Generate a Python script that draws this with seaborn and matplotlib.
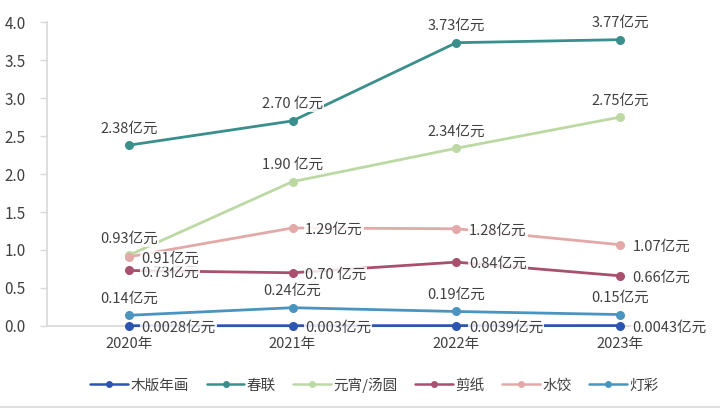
import numpy as np
import pandas as pd
import matplotlib.pyplot as plt
import seaborn as sns

years = ['2020年', '2021年', '2022年', '2023年']
series_names = ['木版年画', '春联', '元宵/汤圆', '剪纸', '水饺', '灯彩']
muban = [0.0028, 0.003, 0.0039, 0.0043]
chunlian = [2.38, 2.70, 3.73, 3.77]
yuanxiao = [0.93, 1.90, 2.34, 2.75]
jianzhi = [0.73, 0.70, 0.84, 0.66]
shuijiao = [0.91, 1.29, 1.28, 1.07]
dengcai = [0.14, 0.24, 0.19, 0.15]

labels_muban = ['0.0028亿元', '0.003亿元', '0.0039亿元', '0.0043亿元']
labels_chunlian = ['2.38亿元', '2.70 亿元', '3.73亿元', '3.77亿元']
labels_yuanxiao = ['0.93亿元', '1.90 亿元', '2.34亿元', '2.75亿元']
labels_jianzhi = ['0.73亿元', '0.70 亿元', '0.84亿元', '0.66亿元']
labels_shuijiao = ['0.91亿元', '1.29亿元', '1.28亿元', '1.07亿元']
labels_dengcai = ['0.14亿元', '0.24亿元', '0.19亿元', '0.15亿元']

colors = ['#2B55B0', '#3A8F8C', '#BCD9A4', '#A8506E', '#E3A9A8', '#4A94C0']

all_values = [muban, chunlian, yuanxiao, jianzhi, shuijiao, dengcai]
all_labels = [labels_muban, labels_chunlian, labels_yuanxiao,
              labels_jianzhi, labels_shuijiao, labels_dengcai]
# where each series puts its labels
placement = ['right', 'above', 'above', 'right', 'right', 'above']

rows = []
for name, vals in zip(series_names, all_values):
    for y, v in zip(years, vals):
        rows.append({'year': y, 'value': v, 'series': name})
df = pd.DataFrame(rows)

sns.set_theme(style='white')
plt.rcParams['font.family'] = ['Noto Sans CJK SC', 'DejaVu Sans']

fig, ax = plt.subplots(figsize=(7.2, 4.11), dpi=100)
fig.subplots_adjust(left=0.065, right=0.975, top=0.946, bottom=0.207)

sns.lineplot(data=df, x='year', y='value', hue='series', hue_order=series_names,
             palette=colors, marker='o', markersize=6.5, markeredgewidth=0,
             linewidth=2, sort=False, ax=ax)
# keep the near-zero series fully visible on top of the baseline
for ln in ax.lines:
    ln.set_clip_on(False)
    ln.set_zorder(3)

# data labels
box = dict(boxstyle='square,pad=0.08', fc='white', ec='none', alpha=0.85)
for vals, labs, where in zip(all_values, all_labels, placement):
    for i, (v, t) in enumerate(zip(vals, labs)):
        if where == 'above':
            ann = ax.annotate(t, (i, v), xytext=(0, 7), textcoords='offset points',
                              ha='center', va='bottom', fontsize=10.5, color='#404040',
                              bbox=box)
        else:
            ann = ax.annotate(t, (i, v), xytext=(9, -1.5), textcoords='offset points',
                              ha='left', va='center', fontsize=10.5, color='#404040',
                              bbox=box)
        ann.set_zorder(6)

ax.set_xlim(-0.5, 3.5)
ax.set_ylim(0, 4.0)
ax.set_yticks(np.arange(0, 4.01, 0.5))
ax.set_yticklabels([f'{t:.1f}' for t in np.arange(0, 4.01, 0.5)], fontsize=11, color='#404040')
ax.tick_params(axis='x', length=0, labelsize=10.5, labelcolor='#404040', pad=8)
ax.tick_params(axis='y', length=5, color='#D9D9D9', width=1, left=True, pad=10)
ax.set_xlabel('')
ax.set_ylabel('')

for side in ['top', 'right']:
    ax.spines[side].set_visible(False)
ax.spines['left'].set_color('#D9D9D9')
ax.spines['bottom'].set_color('#D9D9D9')

leg = ax.legend(loc='upper center', bbox_to_anchor=(0.5, -0.125), ncol=6, frameon=False,
                fontsize=10.5, handlelength=2.6, handletextpad=0.15, columnspacing=1.2,
                labelcolor='#404040')
for h in leg.legend_handles:
    h.set_markersize(5)
    h.set_linewidth(1.8)

fig.add_artist(plt.Line2D([0, 1], [0.01, 0.01], color='#D9D9D9', lw=1.2))

fig.savefig('out.png', dpi=100)
